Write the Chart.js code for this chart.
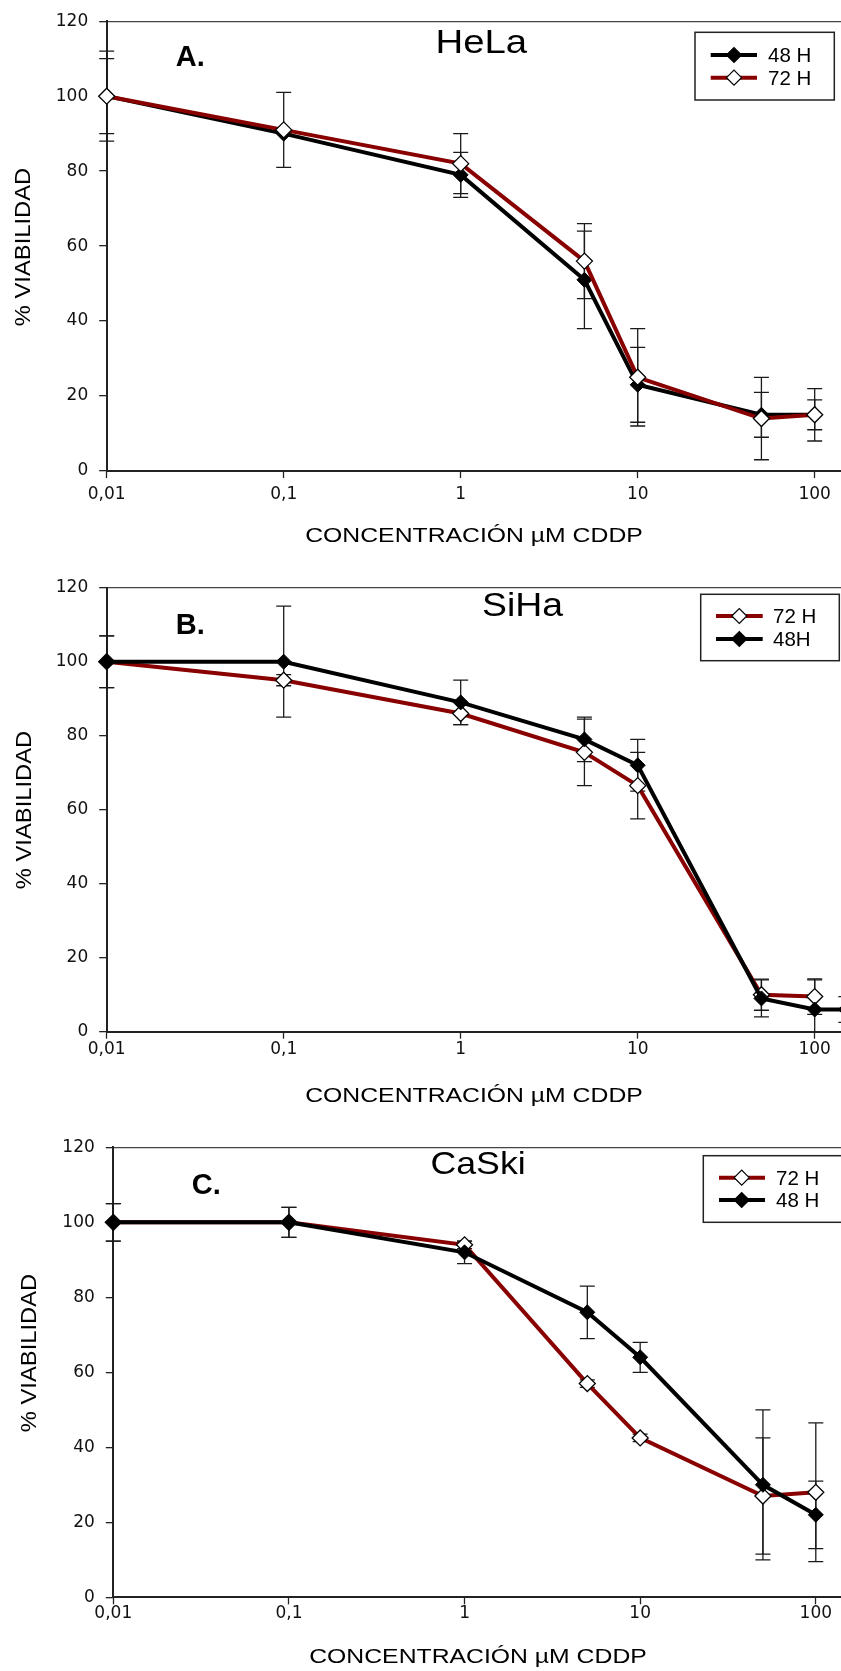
<!DOCTYPE html>
<html>
<head>
<meta charset="utf-8">
<script src="https://cdn.jsdelivr.net/npm/chart.js@4.4.1/dist/chart.umd.min.js"></script>
<style>
html,body{margin:0;padding:0;background:#fff;overflow:hidden;width:841px;height:1671px;}
.p{position:absolute;left:0;width:868px;}
canvas{display:block;}
</style>
</head>
<body>
<div class="p" style="top:0;height:555px"><canvas id="cA" width="868" height="555"></canvas></div>
<div class="p" style="top:555px;height:555px"><canvas id="cB" width="868" height="555"></canvas></div>
<div class="p" style="top:1110px;height:561px"><canvas id="cC" width="868" height="561"></canvas></div>
<script>
// ---------- data ----------
const tickValues = [0.01, 0.1, 1, 10, 100];
const tickLabels = ['0,01', '0,1', '1', '10', '100'];
const xAxisTitle = 'CONCENTRACIÓN µM CDDP';
const yAxisTitle = '% VIABILIDAD';

// A. HeLa
const concHeLa = [0.01, 0.1, 1, 5, 10, 50, 100];
const helaH48 = [100, 90, 79, 51, 23, 15, 15];
const helaH48Err = [12, 0, 6, 13, 10, 6, 4];
const helaH72 = [100, 91, 82, 56, 25, 14, 15];
const helaH72Err = [10, 10, 8, 10, 13, 11, 7];

// B. SiHa
const concSiHa72 = [0.01, 0.1, 1, 5, 10, 50, 100];
const sihaH72 = [100, 95, 86, 75.5, 66.5, 10, 9.5];
const sihaH72Err = [7, 1.5, 3, 9, 9, 4.2, 4.8];
const concSiHa48 = [0.01, 0.1, 1, 5, 10, 50, 100, 150];
const sihaH48 = [100, 100, 89, 79, 72, 9, 6, 6];
const sihaH48Err = [7, 15, 6, 6, 7, 5, 8, 3.5];

// C. CaSki
const concCaSki = [0.01, 0.1, 1, 5, 10, 50, 100];
const caskiH72 = [100, 100, 94, 57, 42.5, 27, 28];
const caskiH72Err = [5, 4, 1, 1, 1, 15.5, 18.5];
const caskiH48 = [100, 100, 92, 76, 64, 30, 22];
const caskiH48Err = [5, 4, 3, 7, 4, 20, 9];

// ---------- styles ----------
const RED = '#880000';
const SANS = '"Liberation Sans", Arial, sans-serif';
const TICKFONT = '"DejaVu Sans", "Liberation Sans", sans-serif';

function pts(xs, ys) { return xs.map((x, i) => ({ x: x, y: ys[i] })); }

function ds48(label, xs, ys, errs, order) {
  return { label, data: pts(xs, ys), errors: errs, order,
    borderColor: '#000', borderWidth: 4, backgroundColor: '#000',
    pointStyle: 'rectRot', pointRadius: 7.5, pointBackgroundColor: '#000',
    pointBorderColor: '#000', pointBorderWidth: 1, tension: 0, clip: false };
}
function ds72(label, xs, ys, errs, order) {
  return { label, data: pts(xs, ys), errors: errs, order,
    borderColor: RED, borderWidth: 4, backgroundColor: '#fff',
    pointStyle: 'rectRot', pointRadius: 8, pointBackgroundColor: '#fff',
    pointBorderColor: '#000', pointBorderWidth: 1.3, tension: 0, clip: false };
}

const errorBarPlugin = {
  id: 'errbars',
  beforeDatasetsDraw(chart) {
    const { ctx, chartArea, scales } = chart;
    const xs = scales.x, ys = scales.y;
    ctx.save();
    ctx.beginPath();
    ctx.rect(0, chartArea.top - 1, chart.width, chartArea.bottom - chartArea.top + 1);
    ctx.clip();
    ctx.strokeStyle = '#1a1a1a';
    ctx.lineWidth = 1.3;
    chart.data.datasets.forEach(ds => {
      ds.data.forEach((p, i) => {
        const e = ds.errors[i];
        if (!e) return;
        const px = xs.getPixelForValue(p.x);
        const y1 = ys.getPixelForValue(p.y + e);
        const y2 = ys.getPixelForValue(p.y - e);
        ctx.beginPath();
        ctx.moveTo(px, y1); ctx.lineTo(px, y2);
        ctx.moveTo(px - 7.5, y1); ctx.lineTo(px + 7.5, y1);
        ctx.moveTo(px - 7.5, y2); ctx.lineTo(px + 7.5, y2);
        ctx.stroke();
      });
    });
    ctx.restore();
  }
};

function stretchText(ctx, text, x, y, font, sx, align) {
  ctx.save();
  ctx.font = font;
  ctx.textAlign = align;
  ctx.textBaseline = 'alphabetic';
  ctx.translate(x, y);
  ctx.scale(sx, 1);
  ctx.fillText(text, 0, 0);
  ctx.restore();
}

function diamond(ctx, x, y, r, fill) {
  ctx.beginPath();
  ctx.moveTo(x - r, y); ctx.lineTo(x, y - r); ctx.lineTo(x + r, y); ctx.lineTo(x, y + r);
  ctx.closePath();
  ctx.fillStyle = fill; ctx.fill();
  ctx.strokeStyle = '#000'; ctx.lineWidth = 1.2; ctx.stroke();
}

const annotPlugin = {
  id: 'annot',
  afterDraw(chart) {
    const a = chart.options.plugins.annot;
    const ctx = chart.ctx;
    ctx.save();
    ctx.fillStyle = '#000';
    stretchText(ctx, a.letter.text, a.letter.x, a.letter.y, 'bold 29px ' + SANS, 1, 'left');
    stretchText(ctx, a.title.text, a.title.x, a.title.y, a.title.size + 'px ' + SANS, a.title.sx, 'left');
    stretchText(ctx, xAxisTitle, a.xTitle.x, a.xTitle.y, '19.5px ' + SANS, 1.27, 'center');
    ctx.save();
    ctx.font = '22px ' + SANS;
    ctx.textAlign = 'center';
    ctx.textBaseline = 'alphabetic';
    ctx.translate(a.yTitle.x, a.yTitle.y);
    ctx.rotate(-Math.PI / 2);
    ctx.scale(1.08, 1);
    ctx.fillText(yAxisTitle, 0, 0);
    ctx.restore();
    const lg = a.legend;
    ctx.lineWidth = 1.5;
    ctx.strokeStyle = '#222';
    ctx.strokeRect(lg.x, lg.y, lg.w, lg.h);
    chart.data.datasets.forEach((ds, k) => {
      const ry = lg.rows[k];
      ctx.beginPath();
      ctx.strokeStyle = ds.borderColor;
      ctx.lineWidth = 4;
      ctx.moveTo(lg.x1, ry); ctx.lineTo(lg.x2, ry);
      ctx.stroke();
      diamond(ctx, lg.mx, ry, 7.5, ds.pointBackgroundColor);
      ctx.fillStyle = '#000';
      stretchText(ctx, ds.label, lg.tx, ry + 7.4, '20.5px ' + SANS, 1, 'left');
    });
    ctx.restore();
  }
};

function makeChart(id, datasets, lay, annot) {
  const chart = new Chart(document.getElementById(id), {
    type: 'line',
    data: { datasets },
    options: {
      responsive: false,
      animation: false,
      layout: { padding: { left: 0, right: 0, top: lay.top, bottom: lay.bottom } },
      plugins: { legend: { display: false }, tooltip: { enabled: false }, annot },
      scales: {
        x: {
          type: 'logarithmic', min: 0.01, max: 200,
          afterBuildTicks: ax => { ax.ticks = tickValues.map(v => ({ value: v })); },
          afterFit: ax => { ax.height = 60; ax.paddingLeft = 0; ax.paddingRight = 0; },
          ticks: {
            autoSkip: false, maxRotation: 0, padding: lay.xpad, color: '#111',
            font: { family: TICKFONT, size: 17 },
            callback: v => { const i = tickValues.indexOf(v); return i >= 0 ? tickLabels[i] : ''; }
          },
          grid: { drawOnChartArea: false, tickLength: 7, tickColor: '#222', tickWidth: 1.3 },
          border: { color: '#222', width: 2 }
        },
        y: {
          min: 0, max: 120,
          afterFit: ax => { ax.width = lay.left; },
          ticks: { stepSize: 20, padding: 11, color: '#111', font: { family: TICKFONT, size: 17 } },
          grid: {
            color: c => (c.tick && c.tick.value === 120) ? '#444' : 'rgba(0,0,0,0)',
            lineWidth: 1.3, tickColor: '#222', tickLength: 7.5, tickWidth: 1.3
          },
          border: { color: '#222', width: 2 }
        }
      }
    },
    plugins: [errorBarPlugin, annotPlugin]
  });
  // place the decade 100 at the reference position through the log scale itself
  const ax = chart.scales.x;
  const logMax = Math.log10(0.01) + (ax.right - ax.left) * (Math.log10(100) - Math.log10(0.01)) / (lay.x100 - ax.left);
  chart.options.scales.x.max = Math.pow(10, logMax);
  chart.update();
  return chart;
}

makeChart('cA', [
  ds48('48 H', concHeLa, helaH48, helaH48Err, 1),
  ds72('72 H', concHeLa, helaH72, helaH72Err, 0)
], { left: 106.7, top: 20.7, bottom: 24, xpad: 6.5, x100: 814.7 }, {
  letter: { text: 'A.', x: 175.7, y: 65.7 },
  title: { text: 'HeLa', x: 435.5, y: 52.7, size: 32.5, sx: 1.18 },
  xTitle: { x: 474, y: 541.5 },
  yTitle: { x: 30, y: 247 },
  legend: { x: 695, y: 32.3, w: 139.3, h: 67.7, rows: [55, 77.7], x1: 710.7, x2: 757, mx: 734, tx: 768 }
});

makeChart('cB', [
  ds72('72 H', concSiHa72, sihaH72, sihaH72Err, 1),
  ds48('48H', concSiHa48, sihaH48, sihaH48Err, 0)
], { left: 106.7, top: 32.7, bottom: 18.3, xpad: 0.5, x100: 814.7 }, {
  letter: { text: 'B.', x: 175.7, y: 79 },
  title: { text: 'SiHa', x: 482, y: 61, size: 32.5, sx: 1.15 },
  xTitle: { x: 474, y: 546.5 },
  yTitle: { x: 31, y: 255 },
  legend: { x: 700.7, y: 39.3, w: 138.6, h: 66.4, rows: [61, 84], x1: 716, x2: 762.7, mx: 739.3, tx: 773 }
});

makeChart('cC', [
  ds72('72 H', concCaSki, caskiH72, caskiH72Err, 1),
  ds48('48 H', concCaSki, caskiH48, caskiH48Err, 0)
], { left: 113.3, top: 37.3, bottom: 13.7, xpad: -0.5, x100: 815.8 }, {
  letter: { text: 'C.', x: 191.7, y: 84.3 },
  title: { text: 'CaSki', x: 430.5, y: 64.3, size: 30.5, sx: 1.17 },
  xTitle: { x: 478, y: 552.5 },
  yTitle: { x: 36, y: 243 },
  legend: { x: 703.3, y: 45.7, w: 139, h: 66.6, rows: [67.7, 90], x1: 719, x2: 765, mx: 741.7, tx: 776 }
});
</script>
</body>
</html>
